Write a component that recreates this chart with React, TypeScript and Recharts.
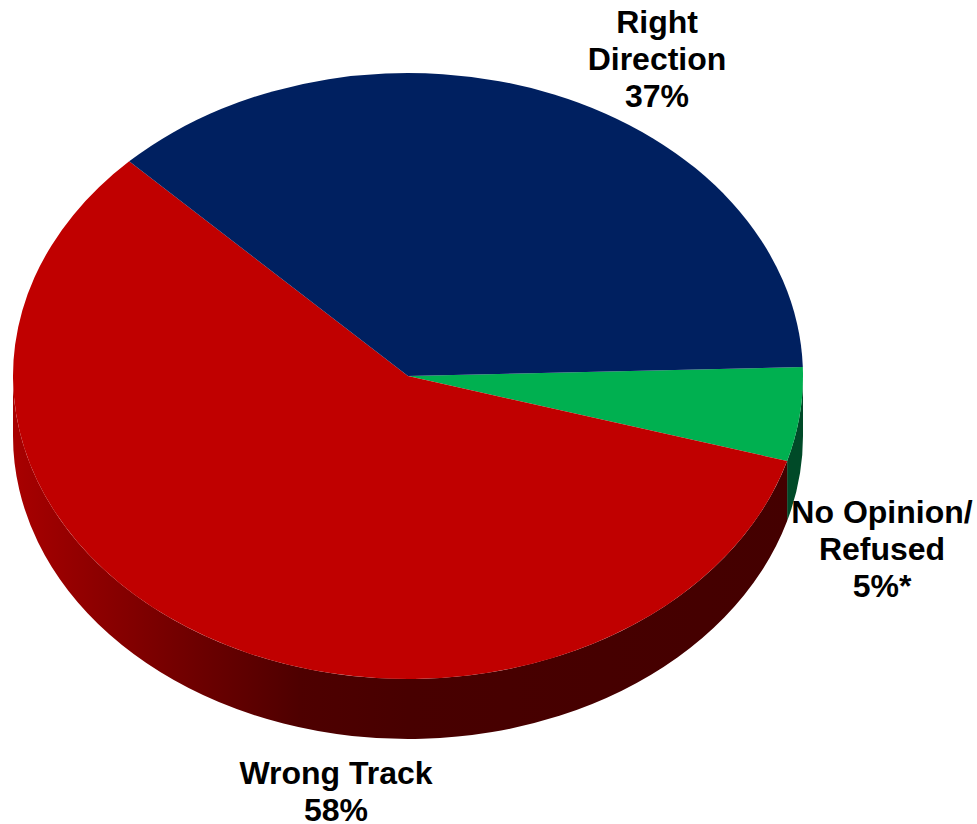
import React from "react";
import { Cell, Pie, PieChart } from "recharts";

const categories = ["No Opinion/Refused", "Wrong Track", "Right Direction"];
const values = [5, 58, 37];
const labelLines = [
  ["No Opinion/", "Refused", "5%*"],
  ["Wrong Track", "58%"],
  ["Right", "Direction", "37%"]
];
const topColors = ["#00b050", "#c00000", "#002060"];
const wallColors = ["#004a28", "url(#redWall)", "#001030"];

const data = categories.map((name, i) => ({ name, value: values[i] }));

const WIDTH = 977;
const HEIGHT = 824;
const CX = 408;
const CY = 376;
const RX = 395;
const RY = 303;
const DEPTH = 60;
const START_ANGLE = 1.7;
const LINE_HEIGHT = 37;

// where each label block sits: centre x, first baseline
const labelSpots = [
  { x: 882, y: 523 },
  { x: 336, y: 784 },
  { x: 657, y: 33 }
];

const rad = (deg: number) => (deg * Math.PI) / 180;
const px = (deg: number) => CX + RX * Math.cos(rad(deg));
const py = (deg: number) => CY - RY * Math.sin(rad(deg));

// the pie is squashed into an ellipse, so the sector is drawn by hand from recharts' angles
function TopSector(props: any) {
  const { startAngle, endAngle, fill } = props;
  const large = Math.abs(startAngle - endAngle) > 180 ? 1 : 0;
  const d = `M${CX},${CY} L${px(startAngle)},${py(startAngle)} A${RX},${RY} 0 ${large} 1 ${px(endAngle)},${py(endAngle)} Z`;
  return <path d={d} fill={fill} stroke="none" />;
}

function WallSector(props: any) {
  const { startAngle, endAngle, fill } = props;
  // only the front half of the rim shows
  const from = Math.min(startAngle, 0);
  const to = Math.max(endAngle, -180);
  if (from <= to) return null;
  const large = from - to > 180 ? 1 : 0;
  const d =
    `M${px(from)},${py(from)} A${RX},${RY} 0 ${large} 1 ${px(to)},${py(to)} ` +
    `L${px(to)},${py(to) + DEPTH} A${RX},${RY} 0 ${large} 0 ${px(from)},${py(from) + DEPTH} Z`;
  return <path d={d} fill={fill} stroke="none" />;
}

function renderLabel({ index }: { index: number }) {
  const spot = labelSpots[index];
  return (
    <text
      key={index}
      x={spot.x}
      y={spot.y}
      textAnchor="middle"
      fontFamily="'Liberation Sans', Arial, sans-serif"
      fontWeight={700}
      fontSize={32}
      fill="#000"
    >
      {labelLines[index].map((line, i) => (
        <tspan key={line} x={spot.x} y={spot.y + i * LINE_HEIGHT}>
          {line}
        </tspan>
      ))}
    </text>
  );
}

export default function App() {
  return (
    <div style={{ position: "absolute", left: 0, top: 0, width: WIDTH, height: HEIGHT }}>
      <PieChart width={WIDTH} height={HEIGHT} margin={{ top: 0, right: 0, bottom: 0, left: 0 }}>
        <defs>
          <linearGradient id="redWall" gradientUnits="userSpaceOnUse" x1={13} y1={0} x2={803} y2={0}>
            <stop offset="0" stopColor="#a80000" />
            <stop offset="0.11" stopColor="#8c0000" />
            <stop offset="0.237" stopColor="#6c0000" />
            <stop offset="0.363" stopColor="#4e0000" />
            <stop offset="0.5" stopColor="#480000" />
            <stop offset="1" stopColor="#440000" />
          </linearGradient>
        </defs>
        <Pie
          data={data}
          dataKey="value"
          nameKey="name"
          cx={CX}
          cy={CY}
          outerRadius={RX}
          startAngle={START_ANGLE}
          endAngle={START_ANGLE - 360}
          stroke="none"
          shape={WallSector}
          isAnimationActive={false}
        >
          {categories.map((name, i) => (
            <Cell key={name} fill={wallColors[i]} />
          ))}
        </Pie>
        <Pie
          data={data}
          dataKey="value"
          nameKey="name"
          cx={CX}
          cy={CY}
          outerRadius={RX}
          startAngle={START_ANGLE}
          endAngle={START_ANGLE - 360}
          stroke="none"
          shape={TopSector}
          label={renderLabel}
          labelLine={false}
          isAnimationActive={false}
        >
          {categories.map((name, i) => (
            <Cell key={name} fill={topColors[i]} />
          ))}
        </Pie>
      </PieChart>
    </div>
  );
}
